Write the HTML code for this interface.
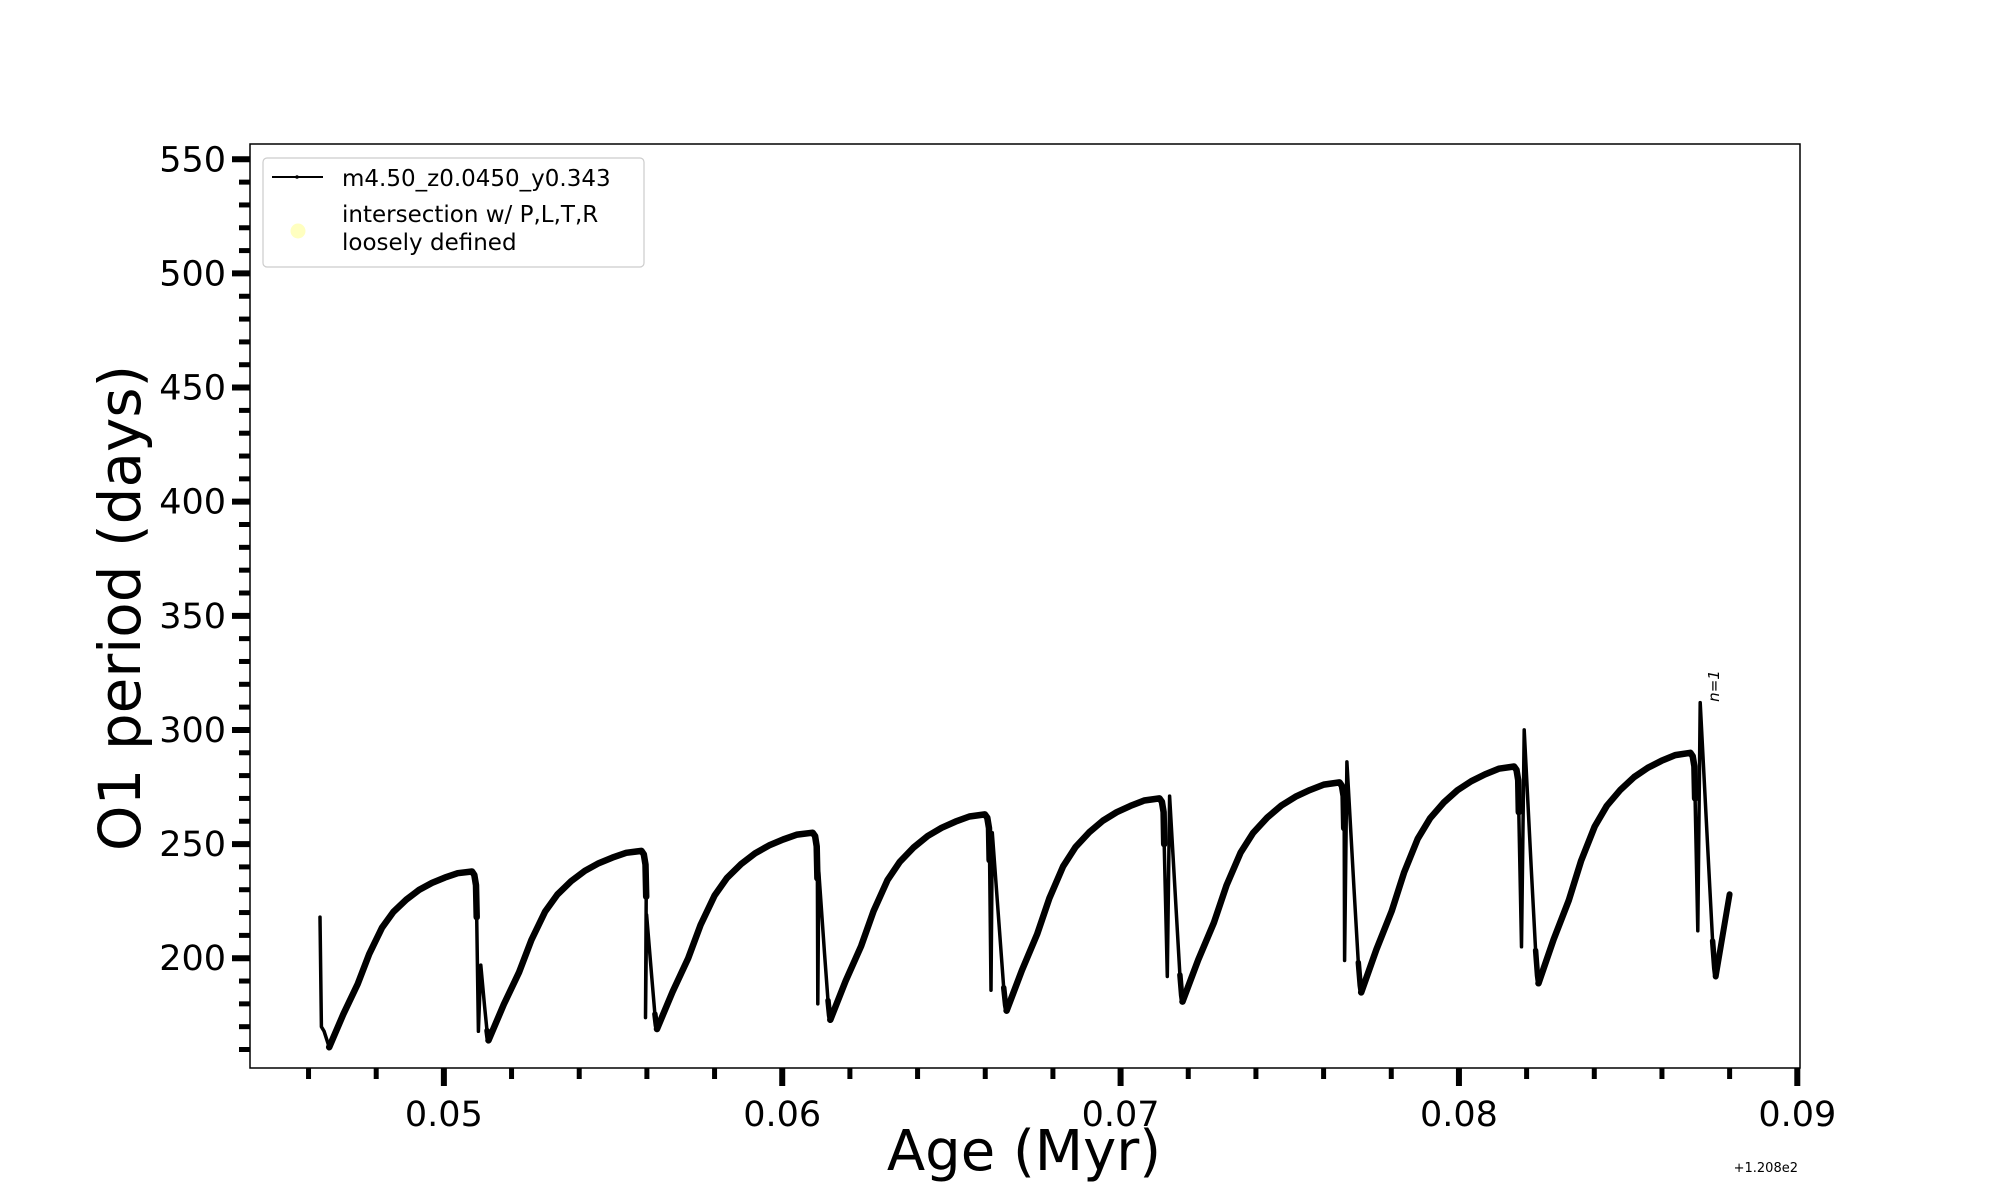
<!DOCTYPE html>
<html><head><meta charset="utf-8"><style>
html,body{margin:0;padding:0;background:#fff;}
svg{display:block;font-family:"DejaVu Sans","Liberation Sans",sans-serif;}
</style></head><body>
<svg id="chart" width="2000" height="1200" viewBox="0 0 2000 1200" xmlns="http://www.w3.org/2000/svg">
<rect x="0" y="0" width="2000" height="1200" fill="#fff"/>
<g id="plot"></g>
<rect x="250" y="144" width="1550" height="924" fill="none" stroke="#000" stroke-width="1.5"/>
<text transform="translate(140,608) rotate(-90)" text-anchor="middle" font-size="58">O1 period (days)</text>
<text x="1024" y="1170" text-anchor="middle" font-size="56">Age (Myr)</text>
<text x="1798" y="1172" text-anchor="end" font-size="13">+1.208e2</text>
<text transform="translate(1719,686) rotate(-90)" text-anchor="middle" font-size="15" font-style="italic">n=1</text>
<g>
<rect x="263" y="158" width="381" height="109" rx="4" fill="#fff" stroke="#ccc" stroke-width="1.2"/>
<line x1="272" y1="177" x2="323" y2="177" stroke="#000" stroke-width="2"/>
<circle cx="297" cy="177" r="1.8" fill="#000"/>
<text x="342" y="186" font-size="23">m4.50_z0.0450_y0.343</text>
<circle cx="298" cy="231" r="7.5" fill="#ffffc0"/>
<text x="342" y="222" font-size="23">intersection w/ P,L,T,R</text>
<text x="342" y="250" font-size="23">loosely defined</text>
</g>
</svg>
<script>
const startAges = [0.04634,0.04638,0.04646];
const startPeriods = [218,170,168];
const minAge = [0.04661,0.05132,0.05630,0.06142,0.06663,0.07183,0.07711,0.08235,0.08759];
const minPeriod = [161,164,169,173,177,181,185,189,192];
const plateauEndAge = [0.05083,0.05584,0.06090,0.06599,0.07115,0.07647,0.08163,0.08684];
const peakPeriod = [238,247,255,263,270,277,284,290];
const dropAge = [0.05102,0.05596,0.06105,0.06617,0.07138,0.07662,0.08185,0.08706];
const dropPeriod = [168,174,180,186,192,199,205,212];
const spikeAge = [0.05109,0.05599,0.06108,0.06621,0.07145,0.07669,0.08193,0.08713];
const spikePeriod = [197,219,238,255,271,286,300,312];
const finalAge = 0.08800;
const finalPeriod = 228;
const riseTime = [0,0.1,0.2,0.28,0.37,0.45,0.54,0.63,0.72,0.81,0.9,1];
const riseFrac = [0,0.19,0.36,0.53,0.68,0.77,0.84,0.895,0.935,0.965,0.99,1];
const yMajorTicks = [200,250,300,350,400,450,500,550];
const xMajorTicks = [0.05,0.06,0.07,0.08,0.09];
const xTickLabels = ["0.05","0.06","0.07","0.08","0.09"];

const L=250,R=1800,T=144,B=1068, X0=0.04427,X1=0.09008, Y0=151.9,Y1=556.7;
const sx=a=>L+(a-X0)/(X1-X0)*(R-L);
const sy=p=>B-(p-Y0)/(Y1-Y0)*(B-T);
const NS="http://www.w3.org/2000/svg";
const g=document.getElementById('plot');
function mk(tag,attrs){const e=document.createElementNS(NS,tag);for(const k in attrs)e.setAttribute(k,attrs[k]);g.appendChild(e);return e;}

for(let v=160;v<=550;v+=10){
  const major=v%50===0;
  const t=mk('line',{x1:major?L-18:L-11,x2:L,y1:sy(v),y2:sy(v),stroke:'#000','stroke-width':major?6:5});
  
  
}
yMajorTicks.forEach(v=>{
  const t=mk('text',{x:L-24,y:sy(v)+12,'text-anchor':'end','font-size':35});
  t.textContent=String(v);
  
  
});
for(let i=0;i<=22;i++){
  const a=0.046+i*0.002;
  const major=Math.abs(a*100-Math.round(a*100))<1e-6;
  const t=mk('line',{x1:sx(a),x2:sx(a),y1:B,y2:B+(major?18:11),stroke:'#000','stroke-width':major?6:5});
  
  
}
xMajorTicks.forEach((a,i)=>{
  const t=mk('text',{x:sx(a),y:B+58,'text-anchor':'middle','font-size':35});
  t.textContent=xTickLabels[i];
  
  
});

function P(a,p){return sx(a).toFixed(1)+','+sy(p).toFixed(1);}
function poly(pts,w,name){
  const e=mk('polyline',{points:pts.join(' '),fill:'none',stroke:'#000','stroke-width':w,'stroke-linejoin':'round','stroke-linecap':'round'});
  
  
}
poly(startAges.map((a,i)=>P(a,startPeriods[i])).concat([P(minAge[0],minPeriod[0])]),3.5,'start-drop-line');
for(let k=0;k<minAge.length;k++){
  const m=minAge[k], p=minPeriod[k];
  if(k<plateauEndAge.length){
    const e=plateauEndAge[k], pk=peakPeriod[k];
    const pts=riseTime.map((t,i)=>P(m+t*(e-m),p+riseFrac[i]*(pk-p)));
    pts.push(P(e+0.00007,pk-1.5));
    pts.push(P(e+0.00012,pk-6));
    pts.push(P(e+0.00014,pk-20));
    poly(pts,6.5,'rise-curve-'+(k+1));
    const s=spikeAge[k], S=spikePeriod[k], nm=minAge[k+1], np=minPeriod[k+1];
    const thin=[P(e+0.00014,pk-20),P(dropAge[k],dropPeriod[k]),P(s,S),
      P(s+0.5*(nm-s),np+0.45*(S-np)),P(s+0.8*(nm-s),np+0.13*(S-np))];
    poly(thin,3.5,'pulse-spike-'+(k+1));
    poly([P(s+0.8*(nm-s),np+0.13*(S-np)),P(s+0.93*(nm-s),np+0.03*(S-np)),P(nm,np)],5.5,'valley-'+(k+1));
  } else {
    poly([P(m,p),P(finalAge,finalPeriod)],6,'final-rise');
  }
}
</script>
</body></html>
